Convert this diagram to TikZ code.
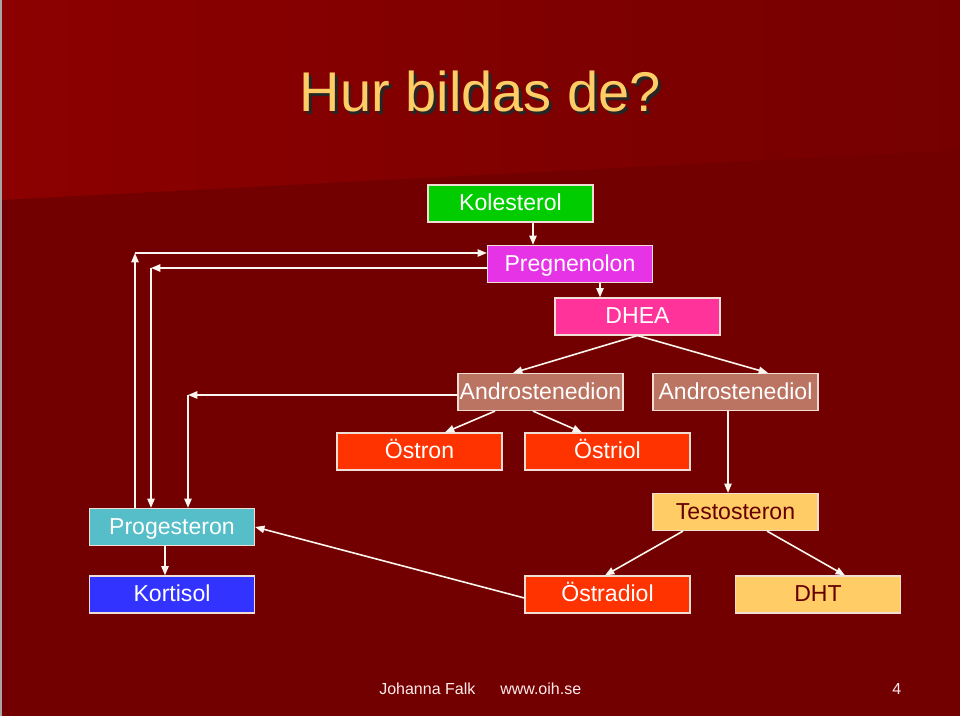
\documentclass[tikz,border=0pt]{standalone}
\usepackage{fontspec}
\setmainfont{Liberation Sans}
\usetikzlibrary{arrows.meta, positioning, calc}

\definecolor{bgdark}{RGB}{115,0,0}
\definecolor{bgtop}{RGB}{140,0,0}
\definecolor{bgtopright}{RGB}{118,0,0}
\definecolor{titlegold}{RGB}{255,204,102}
\definecolor{kolgreen}{RGB}{0,204,0}
\definecolor{pregmag}{RGB}{230,51,230}
\definecolor{dheapink}{RGB}{255,51,153}
\definecolor{androbrown}{RGB}{187,115,98}
\definecolor{ostred}{RGB}{255,51,0}
\definecolor{progteal}{RGB}{85,190,200}
\definecolor{kortblue}{RGB}{51,51,255}
\definecolor{testogold}{RGB}{255,204,102}
\definecolor{testotext}{RGB}{102,0,0}
\definecolor{boxline}{RGB}{240,222,212}
\definecolor{arrowline}{RGB}{250,245,238}

\begin{document}
\begin{tikzpicture}[x=0.75pt, y=-0.75pt,
  hormone/.style={draw=boxline, line width=0.9pt, minimum width=123.75pt, minimum height=27.75pt,
    inner sep=0pt, text height=1.08em, text depth=0pt, text=white, font=\fontsize{17.3}{20}\selectfont},
  arr/.style={-{Triangle[length=7pt, width=5.5pt]}, draw=arrowline, line width=1.2pt},
  footer/.style={anchor=base west, inner sep=0pt, text=white!92!red, font=\fontsize{12}{14}\selectfont}
]
\useasboundingbox (0,0) rectangle (960,716);

% Background
\fill[bgdark] (0,0) rectangle (960,716);
\shade[left color=bgtop, right color=bgtopright] (0,0) -- (960,0) -- (960,150) -- (0,200) -- cycle;
\draw[gray!70, line width=1.5pt] (1,0) -- (1,716);

% Title
\node[anchor=base, inner sep=0pt, text=black!85, font=\fontsize{42}{50}\selectfont] (titleshadow) at (483,114.5) {Hur bildas de?};
\node[anchor=base, inner sep=0pt, text=titlegold, font=\fontsize{42}{50}\selectfont] (title) at (480.5,112) {Hur bildas de?};

% Hormones
\node[hormone, fill=kolgreen] (kol) at (510.5,203.5) {Kolesterol};
\node[hormone, fill=pregmag] (preg) at (570,264) {Pregnenolon};
\node[hormone, fill=dheapink] (dhea) at (637.5,316.5) {DHEA};
\node[hormone, fill=androbrown] (andion) at (540.5,392) {Androstenedion};
\node[hormone, fill=androbrown] (andiol) at (735.5,392) {Androstenediol};
\node[hormone, fill=ostred] (ostron) at (419.5,451.5) {Östron};
\node[hormone, fill=ostred] (ostriol) at (607.5,451.5) {Östriol};
\node[hormone, fill=progteal] (prog) at (172,527) {Progesteron};
\node[hormone, fill=testogold, text=testotext] (testo) at (735.5,512) {Testosteron};
\node[hormone, fill=kortblue] (kort) at (172,594.5) {Kortisol};
\node[hormone, fill=ostred] (ostradiol) at (607.5,594.5) {Östradiol};
\node[hormone, fill=testogold, text=testotext] (dht) at (818,594.5) {DHT};

% Main chain
\draw[arr] ($(kol.south)+(22.5,0)$) -- ($(preg.north)+(-37,0)$);
\draw[arr] ($(preg.south)+(30,0)$) -- ($(dhea.north)+(-37.5,0)$);
\draw[arr] (dhea.south) -- ($(andion.north)+(-27.5,0)$);
\draw[arr] (dhea.south) -- ($(andiol.north)+(32.5,0)$);
\draw[arr] ($(andion.south)+(-45.5,0)$) -- ($(ostron.north)+(25.5,0)$);
\draw[arr] ($(andion.south)+(-7.5,0)$) -- ($(ostriol.north)+(-25.5,0)$);
\draw[arr] ($(andiol.south)+(-7.5,0)$) -- ($(testo.north)+(-7.5,0)$);
\draw[arr] ($(testo.south)+(-52.5,0)$) -- ($(ostradiol.north)+(-2.5,0)$);
\draw[arr] ($(testo.south)+(31.5,0)$) -- ($(dht.north)+(27,0)$);
\draw[arr] ($(ostradiol.west)+(0,3.5)$) -- (prog.east);
\draw[arr] ($(prog.south)+(-7,0)$) -- ($(kort.north)+(-7,0)$);

% Elbow connectors
\coordinate (c1) at (135,253);
\coordinate (c2) at (151,268);
\coordinate (c3) at (188,395);
\draw[arr] (c1 |- prog.north) -- (c1);
\draw[arr] (c1) -- (c1 -| preg.west);
\draw[arr] (c2 -| preg.west) -- (c2);
\draw[arr] (c2) -- (c2 |- prog.north);
\draw[arr] (c3 -| andion.west) -- (c3);
\draw[arr] (c3) -- (c3 |- prog.north);

% Footer
\node[footer] (author) at (379,694) {Johanna Falk};
\node[footer] (website) at (500,694) {www.oih.se};
\node[footer] (pagenum) at (892,694) {4};
\end{tikzpicture}
\end{document}
